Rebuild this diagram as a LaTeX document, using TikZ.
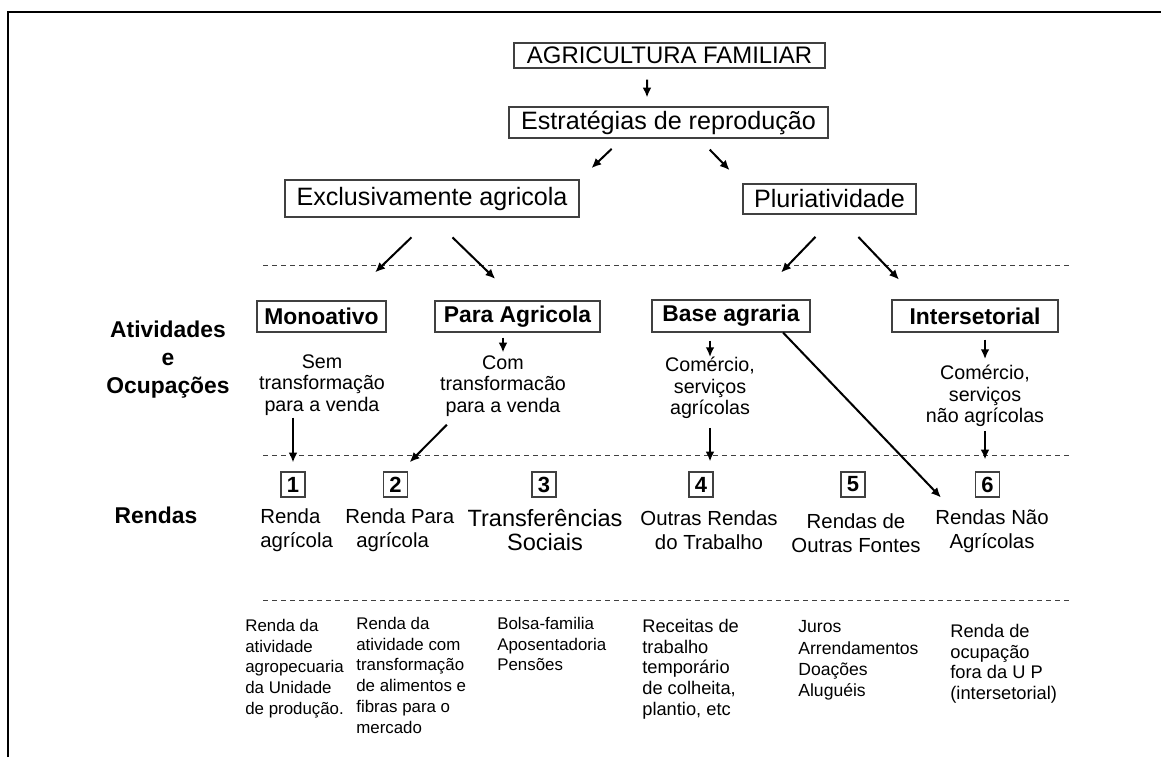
\documentclass[tikz,border=0pt]{standalone}
\usepackage{fontspec}
\setmainfont{Liberation Sans}
\usetikzlibrary{arrows.meta}
\begin{document}
\begin{tikzpicture}[
        titlebox/.style={draw=black!75, line width=0.6pt, inner sep=0pt, font=\fontsize{14.3}{16}\selectfont},
        optionbox/.style={titlebox, font=\fontsize{13}{15}\selectfont\bfseries},
        numbox/.style={titlebox, minimum width=0.48cm, minimum height=0.5cm, font=\fontsize{12.5}{14}\selectfont\bfseries},
        activity/.style={align=center, inner sep=0pt, font=\fontsize{11.2}{12.1}\selectfont},
        income/.style={align=center, inner sep=0pt, font=\fontsize{11.6}{13.6}\selectfont},
        detail/.style={align=left, anchor=north west, inner sep=0pt, font=\fontsize{9.6}{11.9}\selectfont},
        rowlabel/.style={align=center, inner sep=0pt, font=\fontsize{13}{15.9}\selectfont\bfseries},
        divider/.style={dash pattern=on 0.1cm off 0.08cm, line width=0.55pt, black!75},
        flow/.style={->, >={Latex[length=5.6pt,width=5pt]}, line width=1.15pt}
    ]
        \useasboundingbox (0,0) rectangle (23.22,-15.14);
        \draw[line width=1.2pt] (0.16,-15.14) -- (0.16,-0.24) -- (23.22,-0.24);

        % Topo: agricultura familiar e estratégias.
        \node[titlebox, minimum width=6.22cm, minimum height=0.5cm, font=\fontsize{13.6}{16}\selectfont] (familiar) at (13.39,-1.11) {AGRICULTURA FAMILIAR};
        \node[titlebox, minimum width=6.38cm, minimum height=0.62cm] (estrategias) at (13.37,-2.45) {Estratégias de reprodução};
        \node[titlebox, minimum width=5.88cm, minimum height=0.74cm] (exclusivo) at (8.64,-3.97) {Exclusivamente agricola};
        \node[titlebox, minimum width=3.46cm, minimum height=0.60cm] (pluri) at (16.59,-3.98) {Pluriatividade};

        % Linhas tracejadas.
        \draw[divider] (5.26,-5.30) -- (21.44,-5.30);
        \draw[divider] (5.26,-9.10) -- (21.44,-9.10);
        \draw[divider] (5.26,-12.00) -- (21.44,-12.00);

        % Atividades e ocupações.
        \node[rowlabel] (atividades) at (3.36,-7.20) {Atividades\\e\\Ocupações};
        \node[optionbox, minimum width=2.58cm, minimum height=0.62cm] (monoativo) at (6.43,-6.33) {Monoativo};
        \node[optionbox, minimum width=3.30cm, minimum height=0.62cm] (paraagri) at (10.35,-6.33) {Para Agricola};
        \node[optionbox, minimum width=3.16cm, minimum height=0.64cm] (baseagr) at (14.62,-6.32) {Base agraria};
        \node[optionbox, minimum width=3.32cm, minimum height=0.64cm] (intersetorial) at (19.50,-6.32) {Intersetorial};

        \node[activity] (semtransf) at (6.44,-7.70) {Sem\\transformação\\para a venda};
        \node[activity] (comtransf) at (10.06,-7.72) {Com\\transformacão\\para a venda};
        \node[activity] (comagr) at (14.20,-7.76) {Comércio,\\serviços\\agrícolas};
        \node[activity] (comnagr) at (19.70,-7.92) {Comércio,\\serviços\\não agrícolas};

        % Rendas.
        \node[rowlabel] (rendas) at (3.12,-10.30) {Rendas};
        \node[numbox] (n1) at (5.86,-9.69) {1};
        \node[numbox] (n2) at (7.91,-9.69) {2};
        \node[numbox] (n3) at (10.88,-9.69) {3};
        \node[numbox] (n4) at (14.02,-9.69) {4};
        \node[numbox] (n5) at (17.06,-9.69) {5};
        \node[numbox] (n6) at (19.75,-9.69) {6};

        \node[income, align=left, anchor=west] (renda1) at (5.20,-10.60) {Renda\\agrícola};
        \node[income, align=left, anchor=west] (renda2) at (6.90,-10.60) {Renda Para\\\hspace*{0.22cm}agrícola};
        \node[income, font=\fontsize{13.4}{13.6}\selectfont] (renda3) at (10.90,-10.60) {Transferências\\Sociais};
        \node[income] (renda4) at (14.18,-10.60) {Outras Rendas\\do Trabalho};
        \node[income] (renda5) at (17.12,-10.66) {Rendas de\\Outras Fontes};
        \node[income] (renda6) at (19.84,-10.62) {Rendas Não\\Agrícolas};

        % Detalhes de cada renda.
        \node[detail] (det1) at (4.90,-12.37) {Renda da\\atividade\\agropecuaria\\da Unidade\\de produção.};
        \node[detail] (det2) at (7.12,-12.33) {Renda da\\atividade com\\transformação\\de alimentos e\\fibras para o\\mercado};
        \node[detail] (det3) at (9.94,-12.33) {Bolsa-familia\\Aposentadoria\\Pensões};
        \node[detail, font=\fontsize{10.4}{11.9}\selectfont] (det4) at (12.84,-12.37) {Receitas de\\trabalho\\temporário\\de colheita,\\plantio, etc};
        \node[detail, font=\fontsize{10}{12}\selectfont] (det5) at (15.96,-12.41) {Juros\\Arrendamentos\\Doações\\Aluguéis};
        \node[detail, font=\fontsize{10.4}{11.9}\selectfont] (det6) at (19.00,-12.47) {Renda de\\ocupação\\fora da U P\\(intersetorial)};

        % Ligações entre os níveis.
        \draw[flow, shorten <=0.22cm, shorten >=0.18cm] ([xshift=-0.45cm]familiar.south) -- ([xshift=-0.43cm]estrategias.north);
        \draw[flow, shorten <=0.30cm, shorten >=0.33cm] ([xshift=-0.92cm]estrategias.south) -- (exclusivo.north east);
        \draw[flow, shorten <=0.31cm, shorten >=0.37cm] ([xshift=0.61cm]estrategias.south) -- (pluri.north west);
        \draw[flow, shorten <=0.57cm, shorten >=0.81cm] (exclusivo.south) -- ([xshift=0.49cm]monoativo.north);
        \draw[flow, shorten <=0.57cm, shorten >=0.62cm] (exclusivo.south) -- (paraagri.north);
        \draw[flow, shorten <=0.62cm, shorten >=0.75cm] ([xshift=0.15cm]pluri.south) -- ([xshift=0.48cm]baseagr.north);
        \draw[flow, shorten <=0.62cm, shorten >=0.55cm] ([xshift=0.15cm]pluri.south) -- ([xshift=-1.14cm]intersetorial.north);

        % Atividades para rendas.
        \draw[flow, shorten <=0.10cm, shorten >=0.06cm] (comtransf.north |- paraagri.south) -- (comtransf.north);
        \draw[flow, shorten <=0.16cm] (comagr.north |- baseagr.south) -- (comagr.north);
        \draw[flow, shorten <=0.14cm, shorten >=0.12cm] (comnagr.north |- intersetorial.south) -- (comnagr.north);
        \draw[flow, shorten <=0.04cm, shorten >=0.18cm] (semtransf.south -| n1.north) -- (n1.north);
        \draw[flow, shorten <=0.23cm, shorten >=0.26cm] ([xshift=-0.96cm]comtransf.south) -- ([xshift=0.10cm]n2.north);
        \draw[flow, shorten <=0.18cm, shorten >=0.20cm] (comagr.south) -- (comagr.south |- n4.north);
        \draw[flow, shorten <=0.08cm, shorten >=0.24cm] (comnagr.south) -- (comnagr.south |- n6.north);
        \draw[flow] ([xshift=1.04cm]baseagr.south) -- ([xshift=-0.68cm]n6.south west);
    \end{tikzpicture}
\end{document}
